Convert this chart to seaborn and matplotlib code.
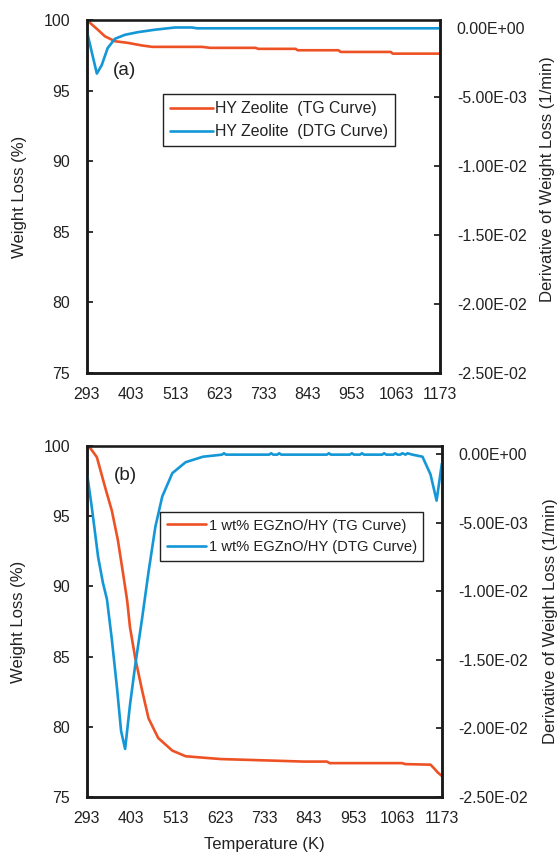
import matplotlib
matplotlib.use("Agg")
import matplotlib.pyplot as plt
from matplotlib import font_manager
from matplotlib.ticker import FuncFormatter, FixedLocator
import seaborn as sns
import pandas as pd

# ---- data -------------------------------------------------------------
temp_ticks = [293, 403, 513, 623, 733, 843, 953, 1063, 1173]
weight_ticks = [75, 80, 85, 90, 95, 100]
deriv_ticks = [0.0, -0.005, -0.010, -0.015, -0.020, -0.025]

# (a) HY zeolite
a_tg_T = [293, 305, 321, 338, 363, 396, 430, 456, 500, 580, 600, 713, 720,
          813, 818, 920, 925, 1050, 1055, 1173]
a_tg_W = [100.0, 99.7, 99.3, 98.85, 98.5, 98.38, 98.2, 98.1, 98.1, 98.1,
          98.03, 98.03, 97.96, 97.96, 97.86, 97.86, 97.74, 97.74, 97.62, 97.62]
a_dtg_T = [293, 305, 318, 330, 345, 363, 388, 420, 463, 513, 555, 568, 1173]
a_dtg_D = [-0.0002, -0.0017, -0.0033, -0.0027, -0.00145, -0.00078, -0.00049,
           -0.0003, -0.00012, 0.00004, 0.00004, -0.00002, -0.00002]

# (b) 1 wt% EGZnO/HY
b_tg_T = [293, 300, 308, 318, 338, 355, 370, 383, 393, 400, 413, 430, 446,
          470, 505, 538, 581, 625, 775, 830, 888, 895, 1075, 1082, 1145,
          1155, 1163, 1173]
b_tg_W = [100.0, 99.9, 99.6, 99.2, 97.1, 95.4, 93.3, 90.9, 89.0, 87.1, 84.9,
          82.6, 80.6, 79.2, 78.3, 77.9, 77.8, 77.7, 77.57, 77.52, 77.52, 77.41,
          77.41, 77.34, 77.3, 77.0, 76.74, 76.5]
b_dtg_T = [293, 305, 321, 333, 343, 355, 368, 378, 388, 400, 413, 430, 446,
           463, 480, 505, 538, 581, 613, 628, 633, 638, 745, 750, 755, 765,
           770, 775, 888, 893, 898, 945, 950, 955, 970, 975, 980, 1025, 1030,
           1035, 1053, 1058, 1063, 1070, 1075, 1083, 1088, 1100, 1125, 1145,
           1160, 1173]
b_dtg_D = [-0.0013, -0.0038, -0.0075, -0.0094, -0.0106, -0.0135, -0.0171,
           -0.0202, -0.0215, -0.0183, -0.0154, -0.0120, -0.0086, -0.0053,
           -0.0031, -0.0014, -0.0006, -0.0002, -0.0001, -0.00005, 0.00005,
           -0.00005, -0.00005, 0.00005, -0.00005, -0.00005, 0.00005, -0.00005,
           -0.00005, 0.00005, -0.00005, -0.00005, 0.00005, -0.00005, -0.00005,
           0.00005, -0.00005, -0.00005, 0.00005, -0.00005, -0.00005, 0.00005,
           -0.00005, -0.00005, 0.00005, -0.00005, 0.00005, -0.00005, -0.0002,
           -0.0015, -0.0034, -0.0007]

panels = [
    dict(tag="(a)", tg=(a_tg_T, a_tg_W), dtg=(a_dtg_T, a_dtg_D),
         tg_label="HY Zeolite  (TG Curve)", dtg_label="HY Zeolite  (DTG Curve)",
         rect=[0.155, 0.5663, 0.631, 0.4104], tag_pos=(0.108, 0.858),
         leg_pos=(0.215, 0.79), leg_fs=0, rlab=1.283, rlab_y=0.55, xlabel=False),
    dict(tag="(b)", tg=(b_tg_T, b_tg_W), dtg=(b_dtg_T, b_dtg_D),
         tg_label="1 wt% EGZnO/HY (TG Curve)",
         dtg_label="1 wt% EGZnO/HY (DTG Curve)",
         rect=[0.155, 0.0733, 0.634, 0.4081], tag_pos=(0.11, 0.917),
         leg_pos=(0.206, 0.812), leg_fs=-0.8, rlab=1.285, rlab_y=0.5, xlabel=True),
]

# ---- style ------------------------------------------------------------
sns.set_theme(style="white")
installed = {f.name for f in font_manager.fontManager.ttflist}
narrow = "Liberation Sans Narrow" in installed
plt.rcParams["font.family"] = (["Liberation Sans Narrow"] if narrow else []) + \
    ["Liberation Sans", "DejaVu Sans"]
plt.rcParams["text.color"] = "#222222"
plt.rcParams["axes.labelcolor"] = "#222222"
plt.rcParams["xtick.color"] = "#222222"
plt.rcParams["ytick.color"] = "#222222"

TG_COLOR = "#EE5224"
DTG_COLOR = "#1497D6"
SPINE = "#1a1a1a"
FS = 12.8 if narrow else 11.4

fig = plt.figure(figsize=(5.6, 8.6), dpi=100)

for p in panels:
    ax = fig.add_axes(p["rect"])
    ax2 = ax.twinx()

    tg = pd.DataFrame({"T": p["tg"][0], "W": p["tg"][1]})
    dtg = pd.DataFrame({"T": p["dtg"][0], "D": p["dtg"][1]})
    sns.lineplot(data=tg, x="T", y="W", ax=ax, color=TG_COLOR, lw=1.9,
                 label=p["tg_label"], legend=False)
    sns.lineplot(data=dtg, x="T", y="D", ax=ax2, color=DTG_COLOR, lw=1.9,
                 label=p["dtg_label"], legend=False)
    for a in (ax, ax2):
        if a.get_legend() is not None:
            a.get_legend().remove()

    ax.set_xlim(293, 1173)
    ax.set_ylim(75, 100)
    ax2.set_ylim(-0.025, 0.00058)
    ax.xaxis.set_major_locator(FixedLocator(temp_ticks))
    ax.yaxis.set_major_locator(FixedLocator(weight_ticks))
    ax2.yaxis.set_major_locator(FixedLocator(deriv_ticks))
    ax2.yaxis.set_major_formatter(
        FuncFormatter(lambda v, pos: "0.00E+00" if abs(v) < 1e-12 else f"{v:.2E}"))

    ax.tick_params(axis="both", direction="in", length=4.5, width=1.3,
                   labelsize=FS, pad=12, top=False, right=False)
    ax.tick_params(axis="x", pad=10)
    ax2.tick_params(axis="y", direction="in", length=4.5, width=1.3,
                    labelsize=FS, pad=12)

    for a in (ax, ax2):
        for s in a.spines.values():
            s.set_color(SPINE)
            s.set_linewidth(1.8)
            s.set_visible(True)
    ax.spines["top"].set_linewidth(1.0)
    ax.spines["top"].set_color("#444444")

    ax.set_xlabel("Temperature (K)" if p["xlabel"] else "", fontsize=FS + 0.6)
    ax.set_ylabel("Weight Loss (%)", fontsize=FS + 0.6)
    ax.yaxis.set_label_coords(-0.17, 0.5)
    ax2.set_ylabel("Derivative of Weight Loss (1/min)", fontsize=FS + 0.6)
    ax2.yaxis.set_label_coords(p["rlab"], p["rlab_y"])
    if p["xlabel"]:
        ax.xaxis.set_label_coords(0.5, -0.115)

    ax.text(*p["tag_pos"], p["tag"], transform=ax.transAxes, fontsize=FS + 2.2,
            ha="center", va="center")

    h1, l1 = ax.get_legend_handles_labels()
    h2, l2 = ax2.get_legend_handles_labels()
    leg = ax2.legend(h1 + h2, l1 + l2, loc="upper left", bbox_to_anchor=p["leg_pos"],
                     fontsize=FS + p["leg_fs"], frameon=True, fancybox=False,
                     framealpha=1, edgecolor="#222222", borderpad=0.45,
                     labelspacing=0.5, handlelength=2.7, handletextpad=0.15,
                     borderaxespad=0)
    leg.get_frame().set_linewidth(1.0)

fig.savefig("out.png", dpi=100)
